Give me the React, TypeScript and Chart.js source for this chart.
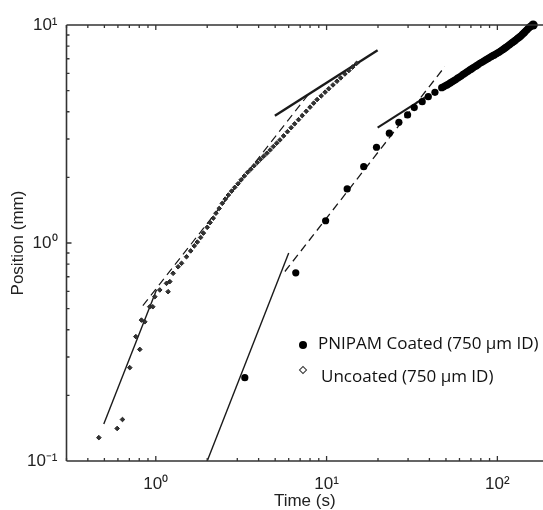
import React, { useEffect, useRef } from 'react';
import { Chart, registerables } from 'chart.js';

Chart.register(...registerables);

// ---------- data ----------
const coatedTime = [
  3.32, 6.6, 9.87, 13.2, 16.5, 19.6, 23.3, 26.5, 29.8, 32.6, 36.3, 39.4, 43.1, 47.2,
  48.3, 49.5, 50.7, 52, 53.2, 54.5, 55.7, 57, 58.5, 60, 61.5, 63, 64.5, 66, 67.5, 69,
  70.5, 72, 73.7, 75.5, 77.2, 79, 80.7, 82.5, 84.2, 86, 88, 90, 92, 94, 96, 98, 100,
  102, 104, 106, 108, 110, 112, 114, 116, 118, 120, 122, 124, 126, 128, 130, 132, 134,
  136, 138, 140, 142, 144, 146, 148, 150, 152, 154, 156, 158, 160, 162,
];
const coatedPos = [
  0.241, 0.73, 1.265, 1.77, 2.24, 2.75, 3.19, 3.58, 3.87, 4.18, 4.45, 4.69, 4.91, 5.16,
  5.2, 5.26, 5.31, 5.37, 5.44, 5.5, 5.56, 5.62, 5.7, 5.77, 5.85, 5.93, 6.0, 6.08, 6.15,
  6.22, 6.29, 6.36, 6.43, 6.51, 6.59, 6.67, 6.73, 6.8, 6.87, 6.94, 7.01, 7.09, 7.16,
  7.23, 7.29, 7.36, 7.43, 7.5, 7.57, 7.65, 7.73, 7.81, 7.89, 7.97, 8.05, 8.14, 8.22,
  8.3, 8.37, 8.45, 8.53, 8.62, 8.7, 8.77, 8.86, 8.95, 9.05, 9.15, 9.25, 9.35, 9.45,
  9.55, 9.66, 9.77, 9.83, 9.89, 9.95, 10.0,
];

const uncoatedTime = [
  0.464, 0.594, 0.638, 0.704, 0.764, 0.806, 0.824, 0.862, 0.922, 0.96, 0.987, 1.055,
  1.155, 1.18, 1.208, 1.263, 1.351, 1.415, 1.513, 1.6, 1.68, 1.75, 1.83, 1.9, 2.0, 2.08,
  2.17, 2.25, 2.35, 2.45, 2.55, 2.66, 2.78, 2.9, 3.03, 3.16, 3.3, 3.45, 3.6, 3.76, 3.93,
  4.1, 4.28, 4.47, 4.67, 4.88, 5.1, 5.33, 5.6, 5.9, 6.2, 6.5, 6.85, 7.2, 7.6, 8.0, 8.4,
  8.8, 9.3, 9.8, 10.3, 10.9, 11.5, 12.1, 12.8, 13.5, 14.2, 15.0,
];
const uncoatedPos = [
  0.128, 0.141, 0.155, 0.268, 0.372, 0.325, 0.443, 0.435, 0.51, 0.51, 0.567, 0.609,
  0.653, 0.598, 0.665, 0.726, 0.778, 0.807, 0.865, 0.92, 0.97, 1.01, 1.06, 1.11, 1.18,
  1.24, 1.3, 1.37, 1.44, 1.52, 1.59, 1.66, 1.73, 1.8, 1.87, 1.95, 2.03, 2.11, 2.18, 2.26,
  2.34, 2.42, 2.5, 2.58, 2.67, 2.77, 2.87, 2.97, 3.1, 3.24, 3.38, 3.52, 3.68, 3.84, 4.02,
  4.2, 4.38, 4.55, 4.73, 4.92, 5.1, 5.31, 5.52, 5.72, 5.96, 6.18, 6.41, 6.67,
];

// fitted power-law lines (end points)
const fitCoatedEarlyTime = [2.0, 6.0];
const fitCoatedEarlyPos = [0.1, 0.9];
const fitCoatedMidTime = [5.7, 49.3];
const fitCoatedMidPos = [0.74, 6.45];
const fitCoatedLateTime = [19.9, 40];
const fitCoatedLatePos = [3.38, 4.79];
const fitUncoatedEarlyTime = [0.496, 1.01];
const fitUncoatedEarlyPos = [0.148, 0.61];
const fitUncoatedMidTime = [0.84, 8.0];
const fitUncoatedMidPos = [0.516, 4.91];
const fitUncoatedLateTime = [4.98, 19.9];
const fitUncoatedLatePos = [3.83, 7.66];

const xTickValues = [1, 10, 100];
const xTickLabels = ['10\u2070', '10\u00B9', '10\u00B2'];
const yTickValues = [0.1, 1, 10];
const yTickLabels = ['10\u207B\u00B9', '10\u2070', '10\u00B9'];

const legendLabels = ['PNIPAM Coated (750 \u00B5m ID)', 'Uncoated (750 \u00B5m ID)'];

const xMin = 0.3;
const xMax = 185;
const yMin = 0.1;
const yMax = 10;

const W = 543;
const H = 510;

const pts = (t: number[], p: number[]) => t.map((x, i) => ({ x, y: p[i] }));

const axisPlugin = {
  id: 'axisFrame',
  afterDatasetsDraw(chart: any) {
    const { ctx, chartArea } = chart;
    const { left, right, top, bottom } = chartArea;
    const xs = chart.scales.x;
    const ys = chart.scales.y;
    ctx.save();
    ctx.strokeStyle = '#333';
    ctx.lineWidth = 1.6;
    ctx.beginPath();
    ctx.moveTo(left, top);
    ctx.lineTo(left, bottom);
    ctx.moveTo(left, bottom);
    ctx.lineTo(right, bottom);
    ctx.moveTo(left, top);
    ctx.lineTo(right, top);
    ctx.stroke();
    ctx.lineWidth = 1.3;
    ctx.beginPath();
    for (let d = -2; d <= 2; d++) {
      for (let m = 1; m <= 9; m++) {
        const v = m * Math.pow(10, d);
        const len = m === 1 ? 5 : 3;
        if (v >= xMin && v <= xMax) {
          const px = xs.getPixelForValue(v);
          ctx.moveTo(px, bottom);
          ctx.lineTo(px, bottom - len);
          ctx.moveTo(px, top);
          ctx.lineTo(px, top + len);
        }
        if (v > yMin && v < yMax) {
          const py = ys.getPixelForValue(v);
          ctx.moveTo(left, py);
          ctx.lineTo(left + len, py);
        }
      }
    }
    ctx.stroke();
    ctx.restore();
  },
};

const titleFont = { family: '"Liberation Sans", Arial, sans-serif', size: 17, lineHeight: 1 };
const tickFont = { family: '"Liberation Sans", Arial, sans-serif', size: 17 };

function ChartView() {
  const ref = useRef<HTMLCanvasElement | null>(null);
  const wrapRef = useRef<HTMLDivElement | null>(null);
  useEffect(() => {
    if (!ref.current) return;
    const lineDs = (t: number[], p: number[], dashed: boolean, w: number) => ({
      type: 'scatter' as const,
      data: pts(t, p),
      showLine: true,
      borderColor: '#1a1a1a',
      borderWidth: w,
      borderDash: dashed ? [8, 5] : [],
      pointRadius: 0,
      pointHoverRadius: 0,
      fill: false,
    });
    const chart = new Chart(ref.current, {
      type: 'scatter',
      data: {
        datasets: [
          {
            label: legendLabels[1],
            data: pts(uncoatedTime, uncoatedPos),
            pointStyle: 'rectRot',
            pointRadius: 2.3,
            borderColor: '#222',
            borderWidth: 1,
            backgroundColor: '#333',
          },
          {
            label: legendLabels[0],
            data: pts(coatedTime, coatedPos),
            pointStyle: 'circle',
            pointRadius: (c: any) => (c.dataIndex === coatedTime.length - 1 ? 4.6 : 3.6),
            borderWidth: 0,
            backgroundColor: '#000',
            clip: false,
          } as any,
          lineDs(fitUncoatedEarlyTime, fitUncoatedEarlyPos, false, 1.4),
          lineDs(fitUncoatedMidTime, fitUncoatedMidPos, true, 1.2),
          lineDs(fitUncoatedLateTime, fitUncoatedLatePos, false, 2.4),
          lineDs(fitCoatedEarlyTime, fitCoatedEarlyPos, false, 1.4),
          lineDs(fitCoatedMidTime, fitCoatedMidPos, true, 1.3),
          lineDs(fitCoatedLateTime, fitCoatedLatePos, false, 2.0),
        ],
      },
      options: {
        animation: false,
        responsive: true,
        maintainAspectRatio: false,
        layout: { padding: { top: 25, right: 0, left: 0, bottom: 0 } },
        plugins: {
          legend: { display: false },
          tooltip: { enabled: false },
        },
        scales: {
          x: {
            type: 'logarithmic',
            min: xMin,
            max: xMax,
            grid: { display: false, drawTicks: false },
            border: { display: false },
            afterBuildTicks: (s: any) => {
              s.ticks = xTickValues.map((v) => ({ value: v }));
            },
            afterFit: (s: any) => {
              s.height = 49;
            },
            ticks: {
              autoSkip: false,
              maxRotation: 0,
              padding: 13,
              color: '#222',
              font: tickFont,
              callback: (v: any) => {
                const i = xTickValues.indexOf(Number(v));
                return i >= 0 ? xTickLabels[i] : '';
              },
            },
            title: {
              display: true,
              text: 'Time (s)',
              color: '#222',
              font: titleFont,
              padding: { top: 0, bottom: 0 },
            },
          },
          y: {
            type: 'logarithmic',
            min: yMin,
            max: yMax,
            grid: { display: false, drawTicks: false },
            border: { display: false },
            afterBuildTicks: (s: any) => {
              s.ticks = yTickValues.map((v) => ({ value: v }));
            },
            afterFit: (s: any) => {
              s.width = 66.5;
            },
            ticks: {
              autoSkip: false,
              padding: 9,
              color: '#222',
              font: tickFont,
              callback: (v: any) => {
                const i = yTickValues.findIndex((t) => Math.abs(t - Number(v)) < 1e-9);
                return i >= 0 ? yTickLabels[i] : '';
              },
            },
            title: {
              display: true,
              text: 'Position (mm)',
              color: '#222',
              font: titleFont,
              padding: { top: 9.5, bottom: 9.5 },
            },
          },
        },
      },
      plugins: [axisPlugin],
    } as any);
    // stretch so that the plot area runs to the right edge of the window (cut off, as in the reference)
    const gap = W - chart.chartArea.right;
    if (gap > 0.25 && wrapRef.current) {
      wrapRef.current.style.width = `${W + gap}px`;
      chart.resize();
    }
    return () => chart.destroy();
  }, []);

  const textStyle: React.CSSProperties = {
    position: 'absolute',
    fontFamily: '"Open Sans", "Noto Sans", sans-serif',
    fontSize: 17,
    lineHeight: '20px',
    color: '#111',
    whiteSpace: 'nowrap',
  };

  return (
    <div
      style={{
        position: 'absolute',
        left: 0,
        top: 0,
        width: W,
        height: H,
        overflow: 'hidden',
        background: '#fff',
      }}
    >
      <div ref={wrapRef} style={{ position: 'absolute', left: 0, top: 0, width: W, height: H }}>
        <canvas ref={ref} style={{ display: 'block' }} />
      </div>
      <div
        style={{
          position: 'absolute',
          left: 299,
          top: 341,
          width: 8,
          height: 8,
          borderRadius: '50%',
          background: '#000',
        }}
      />
      <div style={{ ...textStyle, left: 318, top: 333 }}>{legendLabels[0]}</div>
      <div
        style={{
          position: 'absolute',
          left: 300,
          top: 367,
          width: 4,
          height: 4,
          border: '1.4px solid #333',
          transform: 'rotate(45deg)',
        }}
      />
      <div style={{ ...textStyle, left: 321, top: 366 }}>{legendLabels[1]}</div>
    </div>
  );
}

export default function App() {
  return <ChartView />;
}
